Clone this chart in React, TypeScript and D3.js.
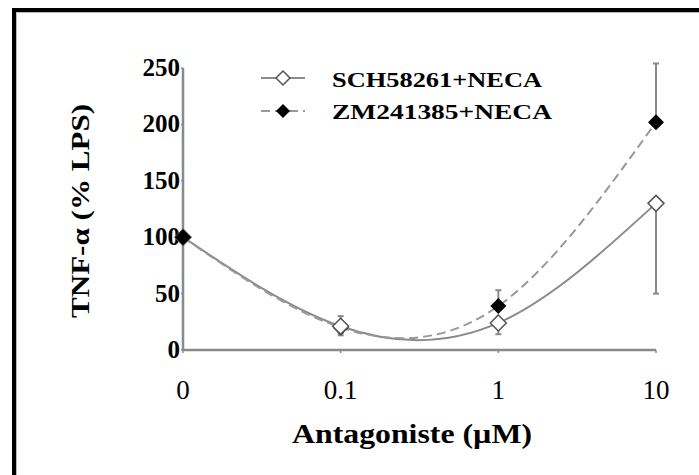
import React from "react";
import * as d3 from "d3";

const categories = ["0", "0.1", "1", "10"];
const schValues = [100, 21, 24, 130];
const zmValues = [100, 20, 39, 202];
const schErrMinus = [0, 8, 10, 80];
const schErrPlus = [0, 9, 0, 0];
const zmErrPlus = [0, 0, 14, 52];
const zmErrMinus = [0, 5, 0, 0];
const yTicks = [0, 50, 100, 150, 200, 250];
const seriesNames = ["SCH58261+NECA", "ZM241385+NECA"];

const W = 699;
const H = 475;

export default function App() {
  const x = d3.scalePoint<string>().domain(categories).range([183, 656]);
  const y = d3.scaleLinear().domain([0, 250]).range([350, 68]);

  const line = d3
    .line<number>()
    .x((_, i) => x(categories[i]) as number)
    .y((d) => y(d))
    .curve(d3.curveNatural);

  const diamond = (cx: number, cy: number, r: number) =>
    `M${cx},${cy - r}L${cx + r},${cy}L${cx},${cy + r}L${cx - r},${cy}Z`;

  const grey = "#8a8a8a";
  const serif = "Liberation Serif, DejaVu Serif, Times New Roman, serif";
  const ts: React.CSSProperties = { fontFamily: serif };

  const errBar = (i: number, v: number, minus: number, plus: number, key: string) => {
    const cx = x(categories[i]) as number;
    const els: React.ReactNode[] = [];
    if (minus > 0) {
      els.push(
        <g key={key + "m"}>
          <line x1={cx} x2={cx} y1={y(v)} y2={y(v - minus)} stroke={grey} strokeWidth={2} />
          <line x1={cx - 3} x2={cx + 3} y1={y(v - minus)} y2={y(v - minus)} stroke={grey} strokeWidth={2} />
        </g>
      );
    }
    if (plus > 0) {
      els.push(
        <g key={key + "p"}>
          <line x1={cx} x2={cx} y1={y(v)} y2={y(v + plus)} stroke={grey} strokeWidth={2} />
          <line x1={cx - 3} x2={cx + 3} y1={y(v + plus)} y2={y(v + plus)} stroke={grey} strokeWidth={2} />
        </g>
      );
    }
    return els;
  };

  const schMarker = (i: number) => (
    <path
      key={"sm" + i}
      d={diamond(x(categories[i]) as number, y(schValues[i]), 8)}
      fill="#fff"
      stroke="#555"
      strokeWidth={1.5}
    />
  );
  const zmMarker = (i: number) => (
    <path key={"zm" + i} d={diamond(x(categories[i]) as number, y(zmValues[i]), 8)} fill="#000" />
  );

  return (
    <svg
      width={W}
      height={H}
      style={{ position: "absolute", left: 0, top: 0, background: "#fff" }}
    >
      <rect x={0} y={0} width={W} height={H} fill="#fff" />
      {/* frame */}
      <line x1={12} x2={W} y1={10} y2={10} stroke="#000" strokeWidth={4} />
      <line x1={14} x2={14} y1={8} y2={H} stroke="#000" strokeWidth={4} />
      <line x1={16} x2={W} y1={12.5} y2={12.5} stroke="#bbb" strokeWidth={1} />
      <line x1={16.5} x2={16.5} y1={12} y2={H} stroke="#bbb" strokeWidth={1} />

      {/* axes */}
      <line x1={183} x2={183} y1={y(250)} y2={y(0)} stroke={grey} strokeWidth={2.5} />
      <line x1={183} x2={x("10") as number} y1={y(0)} y2={y(0)} stroke={grey} strokeWidth={2.5} />
      {yTicks.map((t) => (
        <g key={"yt" + t}>
          <line x1={181} x2={183} y1={y(t)} y2={y(t)} stroke={grey} strokeWidth={1.5} />
          <text
            x={180}
            y={y(t) + 8}
            textAnchor="end"
            fontSize={25}
            fontWeight="bold"
            fill="#000"
            style={ts}
          >
            {t}
          </text>
        </g>
      ))}
      {categories.map((c) => (
        <g key={"xt" + c}>
          <line x1={x(c) as number} x2={x(c) as number} y1={y(0)} y2={y(0) + 3} stroke={grey} strokeWidth={1.5} />
          <text x={x(c) as number} y={399} textAnchor="middle" fontSize={27} fill="#000" style={ts}>
            {c}
          </text>
        </g>
      ))}

      {/* axis titles */}
      <text
        x={412}
        y={443}
        textAnchor="middle"
        fontSize={27}
        fontWeight="bold"
        textLength={240}
        lengthAdjust="spacingAndGlyphs"
        fill="#000"
        style={ts}
      >
        Antagoniste (µM)
      </text>
      <text
        transform={`translate(89,211) rotate(-90)`}
        textAnchor="middle"
        fontSize={26}
        fontWeight="bold"
        textLength={214}
        lengthAdjust="spacingAndGlyphs"
        fill="#000"
        style={ts}
      >
        TNF-α (% LPS)
      </text>

      {/* lines */}
      <path d={line(schValues) || ""} fill="none" stroke={grey} strokeWidth={2} />
      <path d={line(zmValues) || ""} fill="none" stroke="#999" strokeWidth={2} strokeDasharray="9,5" />

      {/* error bars */}
      {schValues.map((v, i) => errBar(i, v, schErrMinus[i], schErrPlus[i], "s" + i))}
      {zmValues.map((v, i) => errBar(i, v, zmErrMinus[i], zmErrPlus[i], "z" + i))}

      {/* markers */}
      {categories.map((_, i) =>
        i === 0 ? [schMarker(i), zmMarker(i)] : [zmMarker(i), schMarker(i)]
      )}

      {/* legend */}
      <line x1={261} x2={305} y1={78} y2={78} stroke={grey} strokeWidth={2} />
      <path d={diamond(283, 78, 7)} fill="#fff" stroke="#555" strokeWidth={1.5} />
      <text x={332} y={87} fontSize={22} fontWeight="bold" textLength={210} lengthAdjust="spacingAndGlyphs" fill="#000" style={ts}>
        {seriesNames[0]}
      </text>
      <line x1={261} x2={305} y1={111} y2={111} stroke="#999" strokeWidth={2} strokeDasharray="9,5" />
      <path d={diamond(283, 111, 7)} fill="#000" />
      <text x={332} y={119} fontSize={22} fontWeight="bold" textLength={220} lengthAdjust="spacingAndGlyphs" fill="#000" style={ts}>
        {seriesNames[1]}
      </text>
    </svg>
  );
}
